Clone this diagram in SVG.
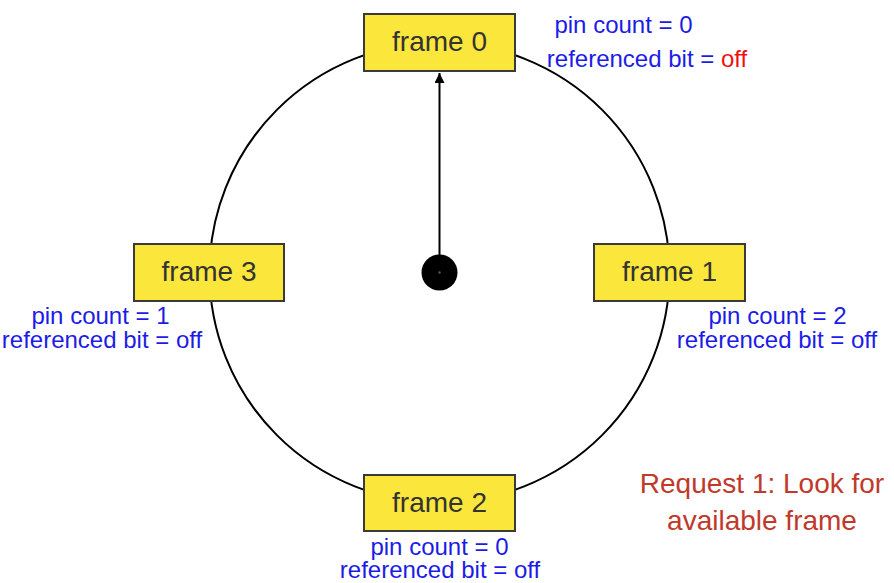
<svg xmlns="http://www.w3.org/2000/svg" width="894" height="583" viewBox="0 0 894 583">
<style>
.frame rect{fill:#fbe63c;stroke:#3a3a3a;stroke-width:2}
.frame text{font-family:"Liberation Sans",Arial,sans-serif;font-size:28px;fill:#333;text-anchor:middle}
.lbl{font-family:"Liberation Sans",Arial,sans-serif;font-size:24px;fill:#1c1ce6;text-anchor:middle}
.off{fill:#f01010}
.req{font-family:"Liberation Sans",Arial,sans-serif;font-size:28px;fill:#c0392b;text-anchor:middle}
</style>
<defs>
<marker id="ah" viewBox="0 0 10 10" refX="10" refY="5" markerWidth="10" markerHeight="10" markerUnits="userSpaceOnUse" orient="auto">
<path d="M0,0 L10,5 L0,10 z" fill="#000"/>
</marker>
</defs>
<g id="connectors">
<circle cx="439.5" cy="272.5" r="230" fill="none" stroke="#000" stroke-width="2"/>
<line x1="439.5" y1="256" x2="439.5" y2="73" stroke="#000" stroke-width="2" marker-end="url(#ah)"/>
</g>
<g id="hand">
<circle cx="439.5" cy="272.5" r="18" fill="#000"/>
<circle cx="439.5" cy="272.5" r="1.2" fill="#555"/>
</g>
<g id="frame0" class="frame">
<rect x="364" y="14" width="151" height="57"/>
<text x="439.5" y="51">frame 0</text>
</g>
<g id="frame1" class="frame">
<rect x="594" y="244" width="151" height="57"/>
<text x="669.5" y="281">frame 1</text>
</g>
<g id="frame2" class="frame">
<rect x="364" y="475" width="151" height="56"/>
<text x="439.5" y="512">frame 2</text>
</g>
<g id="frame3" class="frame">
<rect x="134" y="244" width="150" height="57"/>
<text x="209" y="281">frame 3</text>
</g>
<g id="labels0">
<text class="lbl" x="623.5" y="33">pin count = 0</text>
<text class="lbl" x="647" y="67">referenced bit = <tspan class="off">off</tspan></text>
</g>
<g id="labels1">
<text class="lbl" x="777.5" y="324">pin count = 2</text>
<text class="lbl" x="777" y="348">referenced bit = off</text>
</g>
<g id="labels2">
<text class="lbl" x="439.5" y="555">pin count = 0</text>
<text class="lbl" x="440" y="578">referenced bit = off</text>
</g>
<g id="labels3">
<text class="lbl" x="100.5" y="324">pin count = 1</text>
<text class="lbl" x="102" y="348">referenced bit = off</text>
</g>
<g id="request">
<text class="req" x="762" y="493">Request 1: Look for</text>
<text class="req" x="762" y="530">available frame</text>
</g>
</svg>
